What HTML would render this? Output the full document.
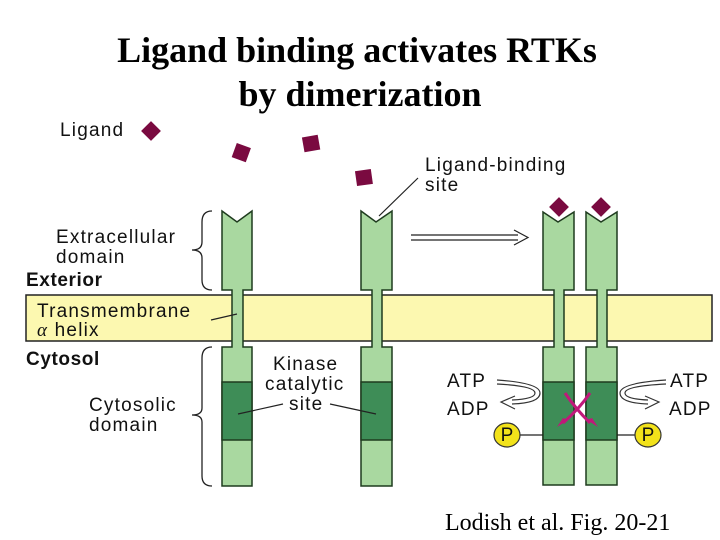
<!DOCTYPE html>
<html><head><meta charset="utf-8"><style>
html,body{margin:0;padding:0;background:#fff;}
svg{display:block}
.s{font-family:"Liberation Sans",sans-serif;font-size:19px;letter-spacing:1.2px;fill:#111;}
.b{font-weight:bold;letter-spacing:0.6px}
</style></head><body>
<svg width="720" height="540" viewBox="0 0 720 540" xmlns="http://www.w3.org/2000/svg">
<text x="357" y="62" text-anchor="middle" font-family="Liberation Serif,serif" font-weight="bold" font-size="36">Ligand binding activates RTKs</text>
<text x="360" y="106" text-anchor="middle" font-family="Liberation Serif,serif" font-weight="bold" font-size="36">by dimerization</text>

<rect x="26" y="295" width="686" height="46" fill="#fcf8b0" stroke="#222" stroke-width="1.5"/>

<g fill="#a9d8a0" stroke="#1e3b1e" stroke-width="1.5">
<path d="M222,211 L237,222 L252,211 L252,290 L243,290 L243,347 L252,347 L252,486 L222,486 L222,347 L232,347 L232,290 L222,290 Z"/>
<path d="M361,211 L376,222 L392,211 L392,290 L382,290 L382,347 L392,347 L392,486 L361,486 L361,347 L372,347 L372,290 L361,290 Z"/>
<path d="M543,212 L558,222 L574,212 L574,290 L564,290 L564,347 L574,347 L574,485 L543,485 L543,347 L554,347 L554,290 L543,290 Z"/>
<path d="M586,212 L601,222 L617,212 L617,290 L607,290 L607,347 L617,347 L617,485 L586,485 L586,347 L597,347 L597,290 L586,290 Z"/>
</g>
<g fill="#3e8d57" stroke="#1e3b1e" stroke-width="1.5">
<rect x="222" y="382" width="30" height="58"/>
<rect x="361" y="382" width="31" height="58"/>
<rect x="543" y="382" width="31" height="58"/>
<rect x="586" y="382" width="31" height="58"/>
</g>

<g fill="#7a0a40">
<rect x="144" y="124" width="14" height="14" transform="rotate(45 151 131)"/>
<rect x="234" y="145" width="15" height="15" transform="rotate(20 241 152)"/>
<rect x="303" y="136" width="16" height="15" transform="rotate(-10 311 143)"/>
<rect x="356" y="170" width="16" height="15" transform="rotate(-8 364 178)"/>
<rect x="552" y="200" width="14" height="14" transform="rotate(45 559 207)"/>
<rect x="594" y="200" width="14" height="14" transform="rotate(45 601 207)"/>
</g>

<g fill="none" stroke="#222" stroke-width="1.3">
<path d="M212,211 Q202,211 202,222 L202,242 Q202,250 192,250 Q202,250 202,258 L202,280 Q202,290 212,290"/>
<path d="M212,347 Q202,347 202,358 L202,408 Q202,415 192,415 Q202,415 202,422 L202,476 Q202,486 212,486"/>
</g>

<g stroke="#222" stroke-width="1.2" fill="none">
<line x1="211" y1="320" x2="237" y2="314"/>
<line x1="238" y1="414" x2="283" y2="404"/>
<line x1="330" y1="404" x2="376" y2="414"/>
<line x1="379" y1="216" x2="418" y2="178"/>
<path d="M411,235 L518,235 M411,240 L518,240" stroke-width="1.3"/>
<path d="M514,230 L528,237.5 L514,245"/>
</g>

<g fill="none" stroke="#333" stroke-width="1.2">
<path d="M497,380 Q540,383 540,393 Q540,403 512,404"/>
<path d="M497,384 Q535,386 535,393 Q535,399 512,400"/>
<path d="M515,396 L501,402 L515,409"/>
<path d="M666,380 Q620,383 620,393 Q620,403 648,404"/>
<path d="M666,384 Q625,386 625,393 Q625,399 648,400"/>
<path d="M645,396 L659,402 L645,409"/>
</g>
<g stroke="#c0187a" stroke-width="3" fill="none">
<path d="M565,393 Q575,408 590,423"/>
<path d="M590,393 Q580,408 563,423"/>
</g>
<path d="M557,427 L568,420 L563,418 Z" fill="#c0187a"/>
<path d="M598,427 L587,420 L592,418 Z" fill="#c0187a"/>

<line x1="519" y1="435" x2="543" y2="435" stroke="#222" stroke-width="1.2"/>
<line x1="617" y1="435" x2="636" y2="435" stroke="#222" stroke-width="1.2"/>
<g fill="#f2e21a" stroke="#333" stroke-width="1.2">
<ellipse cx="507" cy="435" rx="13" ry="12"/>
<ellipse cx="648" cy="435" rx="13" ry="12"/>
</g>
<text class="s" x="507" y="441" text-anchor="middle" style="letter-spacing:0">P</text>
<text class="s" x="648" y="441" text-anchor="middle" style="letter-spacing:0">P</text>

<text class="s" x="60" y="136">Ligand</text>
<text class="s" x="425" y="171">Ligand-binding</text>
<text class="s" x="425" y="191">site</text>
<text class="s" x="56" y="243">Extracellular</text>
<text class="s" x="56" y="263">domain</text>
<text class="s b" x="26" y="286">Exterior</text>
<text class="s" x="37" y="317">Transmembrane</text>
<text class="s" x="37" y="336"><tspan font-family="Liberation Serif,serif" font-style="italic">α</tspan> helix</text>
<text class="s b" x="26" y="365">Cytosol</text>
<text class="s" x="273" y="370">Kinase</text>
<text class="s" x="265" y="390">catalytic</text>
<text class="s" x="289" y="410">site</text>
<text class="s" x="89" y="411">Cytosolic</text>
<text class="s" x="89" y="431">domain</text>
<text class="s" x="447" y="387">ATP</text>
<text class="s" x="447" y="415">ADP</text>
<text class="s" x="670" y="387">ATP</text>
<text class="s" x="669" y="415">ADP</text>
<text x="445" y="530" font-family="Liberation Serif,serif" font-size="24">Lodish et al. Fig. 20-21</text>
</svg>
</body></html>
